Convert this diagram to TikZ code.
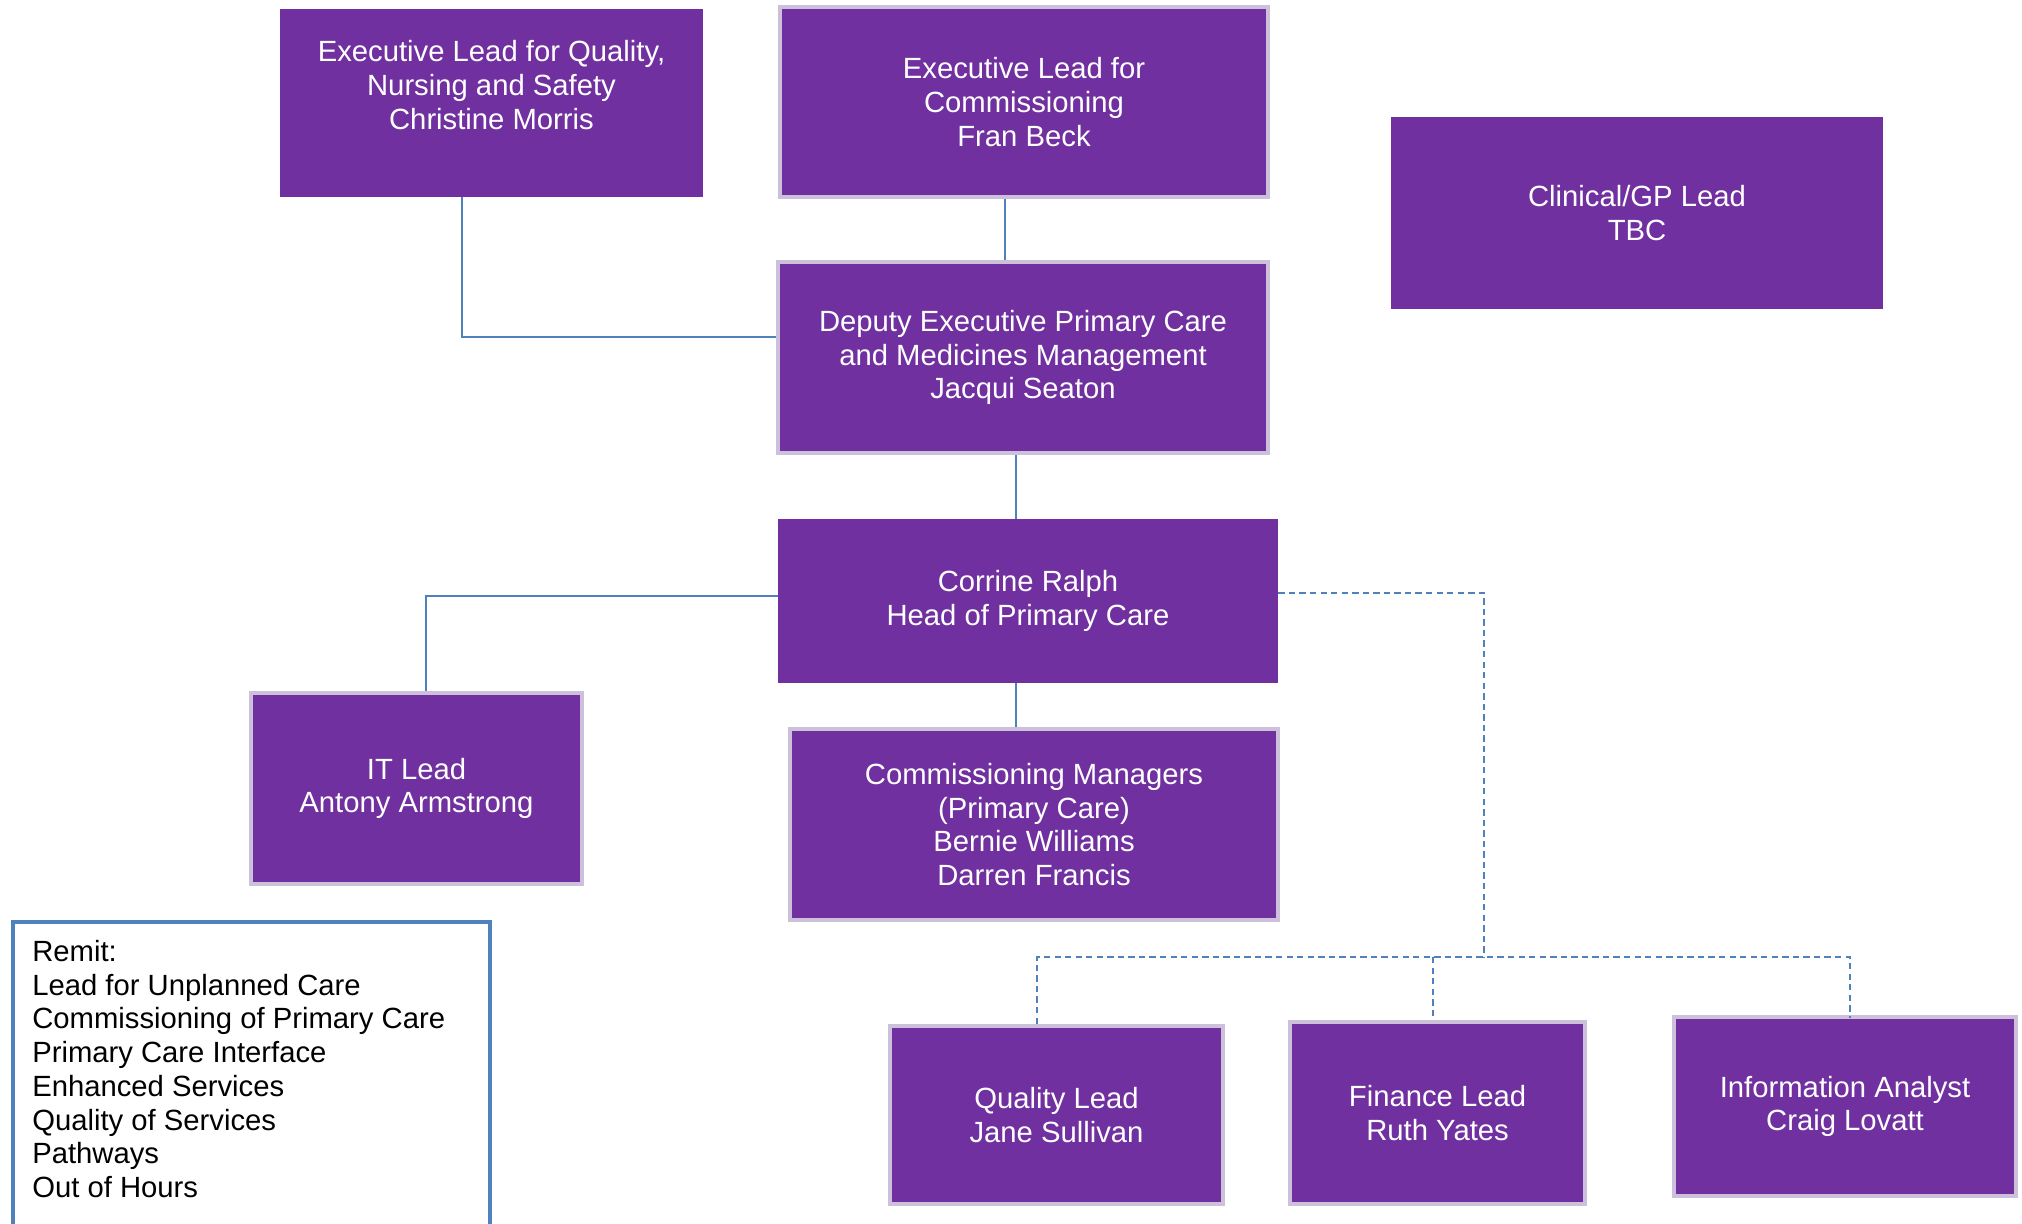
\documentclass[tikz,border=0pt]{standalone}
\usepackage{fontspec}
\setmainfont{Liberation Sans}
\definecolor{boxpurple}{HTML}{7030A0}
\definecolor{boxrim}{HTML}{CCC0DA}
\definecolor{linkblue}{HTML}{4F81BD}

\begin{document}
\begin{tikzpicture}[x=0.025cm, y=-0.025cm,
  pbox/.style={rectangle, fill=boxpurple, text=white, align=center,
    font=\fontsize{20.8}{24}\selectfont, inner sep=0pt},
  rim/.style={draw=boxrim, line width=3pt},
  link/.style={draw=linkblue, line width=1pt},
  dlink/.style={link, dash pattern=on 4.5pt off 3pt}]

\useasboundingbox (0,0) rectangle (2022,1223);

% top row
\node[pbox, minimum width=10.58cm, minimum height=4.70cm] (exqual) at (491.5,103)
  {Executive Lead for Quality,\\Nursing and Safety\\Christine Morris\\[2pt]\mbox{}};
\node[pbox, rim, minimum width=12.2cm, minimum height=4.75cm] (excomm) at (1024,102)
  {Executive Lead for\\Commissioning\\Fran Beck};
\node[pbox, minimum width=12.3cm, minimum height=4.8cm] (gplead) at (1637,213)
  {Clinical/GP Lead\\TBC};

% middle
\node[pbox, rim, minimum width=12.25cm, minimum height=4.78cm] (deputy) at (1023,357.5)
  {Deputy Executive Primary Care\\and Medicines Management\\Jacqui Seaton};
\node[pbox, minimum width=12.5cm, minimum height=4.08cm] (head) at (1028,601)
  {Corrine Ralph\\Head of Primary Care};
\node[pbox, rim, minimum width=8.28cm, minimum height=4.78cm] (itlead) at (416.5,788.5)
  {IT Lead\\Antony Armstrong};
\node[pbox, rim, minimum width=12.2cm, minimum height=4.78cm] (commgr) at (1034,824.5)
  {Commissioning Managers\\(Primary Care)\\Bernie Williams\\Darren Francis};

% bottom row
\node[pbox, rim, minimum width=8.33cm, minimum height=4.45cm] (qlead) at (1056.5,1115)
  {Quality Lead\\Jane Sullivan};
\node[pbox, rim, minimum width=7.38cm, minimum height=4.55cm] (finlead) at (1437.5,1113)
  {Finance Lead\\Ruth Yates};
\node[pbox, rim, minimum width=8.55cm, minimum height=4.48cm] (infoan) at (1845,1106.5)
  {Information Analyst\\Craig Lovatt};

% remit
\node[draw=linkblue, line width=2.5pt, anchor=north west, minimum width=11.93cm,
  minimum height=8cm, inner sep=0pt] (remit) at (11,920) {};
\node[anchor=north west, align=left, inner sep=0pt, font=\fontsize{20.8}{24}\selectfont]
  (remittext) at (32,940)
  {Remit:\\Lead for Unplanned Care\\Commissioning of Primary Care\\Primary Care Interface\\
   Enhanced Services\\Quality of Services\\Pathways\\Out of Hours};

% tap points
\coordinate (qtap) at (462,337);
\coordinate (ctap) at (1005,0);
\coordinate (dtap) at (1016,0);
\coordinate (itap) at (426,596);
\coordinate (htap) at (0,593);
\coordinate (bus) at (1484,957);
\coordinate (qdrop) at (1037,957);
\coordinate (fdrop) at (1433,957);
\coordinate (idrop) at (1850,957);

% solid lines
\draw[link] (exqual.south -| qtap) |- (deputy.west |- qtap);
\draw[link] (excomm.south -| ctap) -- (deputy.north -| ctap);
\draw[link] (deputy.south -| dtap) -- (head.north -| dtap);
\draw[link] (head.west |- itap) -| (itlead.north -| itap);
\draw[link] (head.south -| dtap) -- (commgr.north -| dtap);

% dashed lines
\draw[dlink] (head.east |- htap) -| (bus);
\draw[dlink] (qlead.north -| qdrop) -- (qdrop) -- (idrop) -- ([yshift=-2pt]infoan.north -| idrop);
\draw[dlink] (fdrop) -- (finlead.north -| fdrop);

\end{tikzpicture}
\end{document}
